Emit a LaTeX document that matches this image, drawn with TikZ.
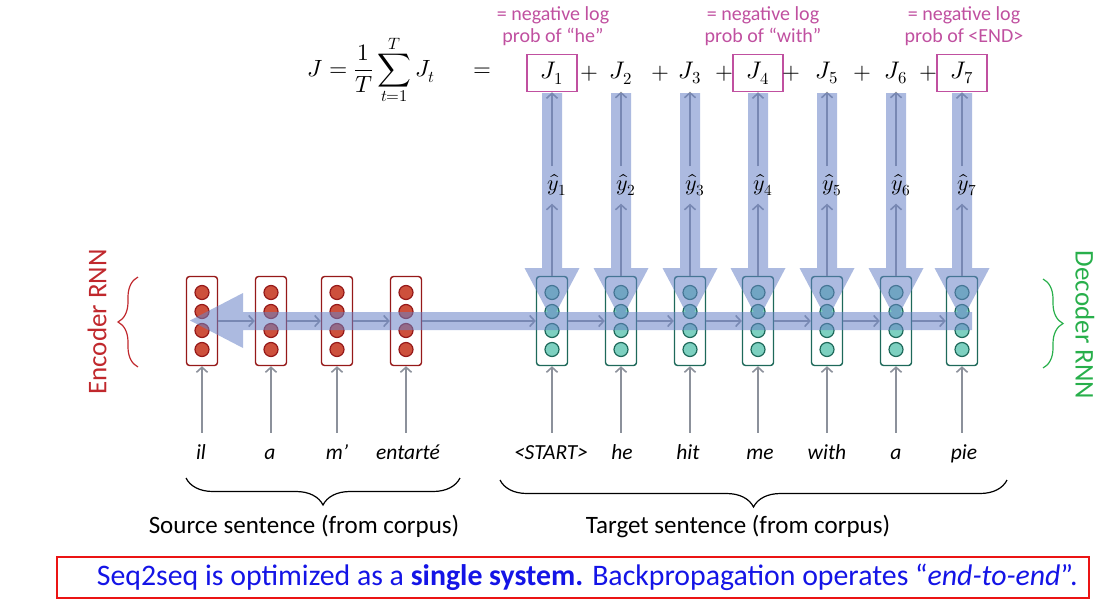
\documentclass[tikz,border=0pt]{standalone}
\usepackage{fontspec}
\usepackage{unicode-math}
\setmainfont{Carlito}
\setmathfont{Latin Modern Math}
\usetikzlibrary{arrows.meta,decorations.pathreplacing}
\definecolor{encfill}{RGB}{205,80,60}
\definecolor{encline}{RGB}{150,25,25}
\definecolor{decfill}{RGB}{125,208,192}
\definecolor{decline}{RGB}{30,105,90}
\definecolor{arrgray}{RGB}{140,145,155}
\definecolor{bandblue}{RGB}{104,130,199}
\definecolor{pinkc}{RGB}{192,80,160}
\definecolor{encred}{RGB}{192,40,45}
\definecolor{decgreen}{RGB}{40,175,75}
\definecolor{msgblue}{RGB}{20,20,230}
\definecolor{boxred}{RGB}{235,20,20}
\pgfdeclarelayer{bg}\pgfdeclarelayer{mid}\pgfsetlayers{bg,mid,main}
\begin{document}
\begin{tikzpicture}[x=1pt,y=-1pt,
  cellenc/.style={draw=encline, fill=white, line width=1.4pt, rounded corners=3pt, minimum width=31pt, minimum height=89pt, inner sep=0pt},
  celldec/.style={draw=decline, fill=white, line width=1.4pt, rounded corners=3pt, minimum width=31pt, minimum height=89pt, inner sep=0pt},
  circenc/.style={draw=encline, fill=encfill, line width=1.2pt},
  circdec/.style={draw=decline, fill=decfill, line width=1.2pt},
  garrow/.style={draw=arrgray, line width=1.6pt, -{Straight Barb[length=5pt,width=11pt]}},
  word/.style={font=\fontsize{21.5}{24}\selectfont\itshape, text height=15pt, text depth=5pt, inner sep=0pt},
  jnode/.style={minimum width=50pt, minimum height=37pt, inner sep=0pt, font=\fontsize{24}{26}\selectfont},
  jbox/.style={jnode, draw=pinkc, line width=1.5pt},
  plusnode/.style={inner sep=0pt, font=\fontsize{23}{26}\selectfont},
  pinklab/.style={text=pinkc, font=\fontsize{20}{22}\selectfont, align=center, inner sep=0pt},
  yhatnode/.style={minimum height=37pt, inner sep=0pt, font=\fontsize{22}{24}\selectfont},
  sentlab/.style={font=\fontsize{25}{28}\selectfont, inner sep=0pt},
  bracestyle/.style={draw=black, line width=1.2pt, decorate, decoration={brace, amplitude=27pt}},
  rnnbrace/.style={line width=1.2pt, decorate, decoration={brace, amplitude=20pt}},
]
\useasboundingbox (0,0) rectangle (1113,611);

% ---------- text nodes (main layer) ----------
\node[inner sep=0pt, font=\fontsize{23.5}{28}\selectfont] (Jdef) at (371,70) {$\displaystyle J=\frac{1}{T}\sum_{t=1}^{T}J_t$};
\node[plusnode] (eq) at (482,72) {$=$};

\node[jbox]  (J1) at (552,73) {$J_1$};
\node[jnode] (J2) at (621,73) {$J_2$};
\node[jnode] (J3) at (690,73) {$J_3$};
\node[jbox]  (J4) at (758,73) {$J_4$};
\node[jnode] (J5) at (827,73) {$J_5$};
\node[jnode] (J6) at (896,73) {$J_6$};
\node[jbox]  (J7) at (962,73) {$J_7$};

\node[plusnode] (p1) at (589,74) {$+$};
\node[plusnode] (p2) at (660,74) {$+$};
\node[plusnode] (p3) at (724,74) {$+$};
\node[plusnode] (p4) at (791,74) {$+$};
\node[plusnode] (p5) at (862,74) {$+$};
\node[plusnode] (p6) at (928,74) {$+$};

\node[pinklab] (n1) at (553,26) {= negative log\\prob of “he”};
\node[pinklab] (n4) at (763,26) {= negative log\\prob of “with”};
\node[pinklab] (n7) at (964,26) {= negative log\\prob of <END>};

\foreach \i/\x in {1/552,2/621,3/690,4/758,5/827,6/896,7/962}
  \node[yhatnode] (y\i) at (\x+5,185) {$\hat{y}_{\i}$};

\node[word] (w1)  at (201,454) {il};
\node[word] (w2)  at (270,454) {a};
\node[word] (w3)  at (337,454) {m’};
\node[word] (w4)  at (408,454) {entarté};
\node[word] (w5)  at (551,454) {<START>};
\node[word] (w6)  at (622,454) {he};
\node[word] (w7)  at (688,454) {hit};
\node[word] (w8)  at (760,454) {me};
\node[word] (w9)  at (827,454) {with};
\node[word] (w10) at (896,454) {a};
\node[word] (w11) at (964,454) {pie};

\node[sentlab] (src) at (304,526) {Source sentence (from corpus)};
\node[sentlab] (tgt) at (738,526) {Target sentence (from corpus)};

\node[rotate=90, text=encred, font=\fontsize{27}{29}\selectfont, inner sep=0pt] (enclab) at (97,322) {Encoder RNN};
\node[rotate=-90, text=decgreen, font=\fontsize{27}{29}\selectfont, inner sep=0pt] (declab) at (1085,325) {Decoder RNN};

\draw[bracestyle] (460,478) -- (186,478);
\draw[bracestyle] (1007,480) -- (500,480);
\draw[rnnbrace, draw=encred] (138,367) -- (138,277);
\draw[rnnbrace, draw=decgreen] (1043,279) -- (1043,368);

\node[draw=boxred, line width=2.5pt, minimum width=1032pt, minimum height=41pt, inner sep=0pt] (msg) at (573,577.5) {};
\node[anchor=west, text=msgblue, inner sep=0pt, font=\fontsize{29.8}{31}\selectfont] (msgtext) at ([xshift=41pt]msg.west)
  {Seq2seq is optimized as a \textbf{single system.} Backpropagation operates “\textit{end-to-end}”.};

% ---------- cells and gray arrows (background) ----------
\begin{pgfonlayer}{bg}
\foreach \n/\x in {1/202,2/271,3/337,4/406} {
  \node[cellenc] (e\n) at (\x,321) {};
  \foreach \dy in {28.5,9.5,-9.5,-28.5}
    \draw[circenc] ([yshift=\dy pt]e\n.center) circle (7);
}
\foreach \n/\x in {1/552,2/621,3/690,4/758,5/827,6/896,7/962} {
  \node[celldec] (d\n) at (\x,321) {};
  \foreach \dy in {28.5,9.5,-9.5,-28.5}
    \draw[circdec] ([yshift=\dy pt]d\n.center) circle (7);
}
\draw[garrow] (e1.east) -- (e2.west);
\draw[garrow] (e2.east) -- (e3.west);
\draw[garrow] (e3.east) -- (e4.west);
\draw[garrow] (e4.east) -- (d1.west);
\foreach \a/\b in {1/2,2/3,3/4,4/5,5/6,6/7}
  \draw[garrow] (d\a.east) -- (d\b.west);
\foreach \w/\c in {1/e1,2/e2,3/e3,4/e4,5/d1,6/d2,7/d3,8/d4,9/d5,10/d6,11/d7}
  \draw[garrow, shorten <=11pt] (\c.south |- w\w.north) -- (\c.south);
\foreach \i in {1,...,7} {
  \draw[garrow] (d\i.north) -- (d\i.north |- y\i.south);
  \draw[garrow] (J\i.south |- y\i.north) -- (J\i.south);
}
\end{pgfonlayer}

% ---------- translucent blue gradient-flow arrows ----------
\begin{pgfonlayer}{mid}
\begin{scope}[transparency group, opacity=0.55]
\fill[bandblue] (972,312) -- (243,312) -- (243,293) -- (190,320.5) -- (243,348) -- (243,330) -- (972,330) -- cycle;
\foreach \x in {552,621,690,758,827,896,962}
  \fill[bandblue] (\x-10,93) -- (\x+10,93) -- (\x+10,268) -- (\x+27.5,268) -- (\x,320) -- (\x-27.5,268) -- (\x-10,268) -- cycle;
\end{scope}
\end{pgfonlayer}
\end{tikzpicture}
\end{document}
